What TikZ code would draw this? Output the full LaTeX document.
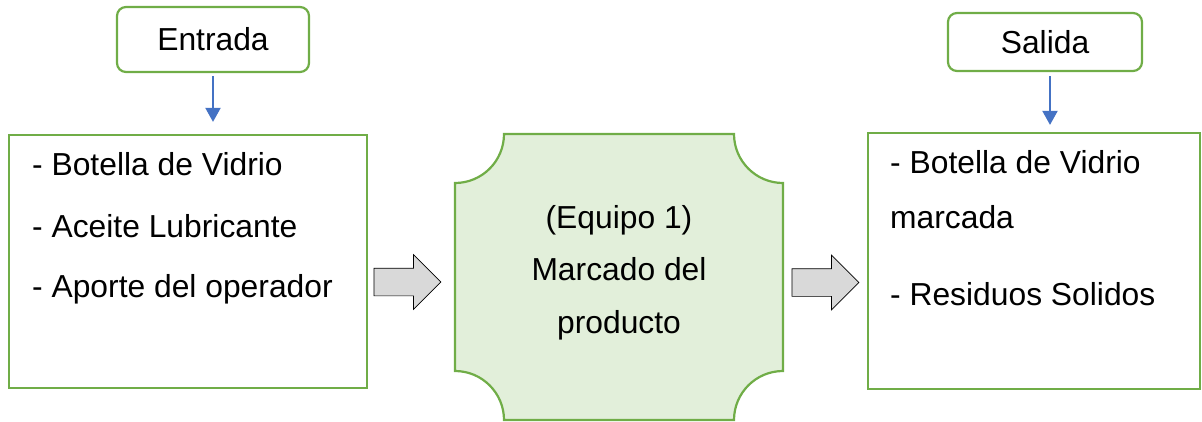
\documentclass[tikz,border=0pt]{standalone}
\usepackage{fontspec}
\setmainfont{Liberation Sans}
\usepackage{xcolor}
\usetikzlibrary{shapes.arrows, arrows.meta, positioning}
\definecolor{boxgreen}{HTML}{70AD47}
\definecolor{platefill}{HTML}{E2EFDA}
\definecolor{feedblue}{HTML}{4472C4}
\definecolor{flowgray}{HTML}{D9D9D9}

\begin{document}
\begin{tikzpicture}[
    x=1pt, y=-1pt,
    font=\fontsize{31.8}{38}\selectfont,
    tag/.style={draw=boxgreen, line width=2.2pt, rounded corners=9pt, inner sep=0pt},
    listbox/.style={draw=boxgreen, line width=2.2pt, inner sep=0pt},
    item/.style={anchor=base west, inner sep=0pt},
    line/.style={anchor=base, inner sep=0pt},
    flow/.style={single arrow, draw=black, line width=0.7pt, fill=flowgray, inner xsep=0pt, inner ysep=13.5pt, single arrow head extend=13.5pt, minimum height=67pt},
    feed/.style={-{Triangle[width=15pt, length=14pt]}, feedblue, line width=2pt}
]
    \useasboundingbox (0,0) rectangle (1202,421);

    % Labels
    \node[tag, minimum width=192pt, minimum height=65pt] (entrada) at (213,39.5) {Entrada};
    \node[tag, minimum width=194pt, minimum height=58pt] (salida) at (1045,42) {Salida};

    % Input and output boxes
    \node[listbox, minimum width=358pt, minimum height=253pt] (inbox) at (188,261.5) {};
    \node[listbox, minimum width=332pt, minimum height=256pt] (outbox) at (1034,261) {};

    % Equipment plate
    \node[minimum width=328pt, minimum height=286pt] (equipo) at (619,277) {};
    \draw[boxgreen, line width=2.2pt, fill=platefill]
        (504,134) -- (734,134) arc[start angle=180, end angle=90, radius=49]
        -- (783,371) arc[start angle=270, end angle=180, radius=49]
        -- (504,420) arc[start angle=360, end angle=270, radius=49]
        -- (455,183) arc[start angle=90, end angle=0, radius=49] -- cycle;

    % Texts
    \node[item] (in1) at (32,175) {- Botella de Vidrio};
    \node[item] (in2) at (32,237) {- Aceite Lubricante};
    \node[item] (in3) at (32,297) {- Aporte del operador};
    \node[line] (eq1) at (619,228) {(Equipo 1)};
    \node[line] (eq2) at (619,280) {Marcado del};
    \node[line] (eq3) at (619,333) {producto};
    \node[item] (out1) at (890,173) {- Botella de Vidrio};
    \node[item] (out2) at (890,228) {marcada};
    \node[item] (out3) at (890,305) {- Residuos Solidos};

    % Flow arrows
    \node[flow] (flowin) at (400.5,282) {};
    \node[flow] (flowout) at (818.5,282.5) {};

    % Feeds
    \draw[feed, shorten <=3pt, shorten >=12pt] (entrada.south) -- (entrada.south |- inbox.north);
    \draw[feed, shorten <=4pt, shorten >=7pt] ([xshift=5pt]salida.south) -- ([xshift=5pt]salida.south |- outbox.north);
\end{tikzpicture}
\end{document}
